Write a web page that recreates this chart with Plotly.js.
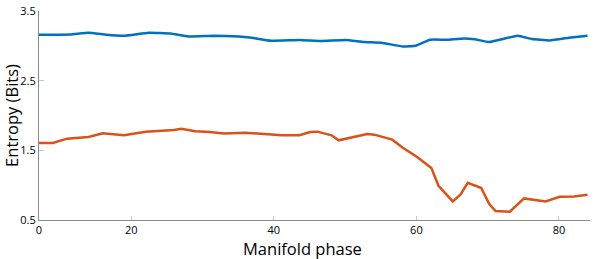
<!DOCTYPE html>
<html>
<head>
<meta charset="utf-8">
<script src="https://cdn.plot.ly/plotly-3.0.1.min.js"></script>
<style>html,body{margin:0;padding:0;background:#fff}#chart{width:597px;height:259px}</style>
</head>
<body>
<div id="chart"></div>
<script>
// Manifold phase positions
const phaseBlue = [7.06, 11.5, 14, 16.5, 19, 22.5, 25.5, 28, 31.5, 35.1, 36.6, 39.6, 43.6, 46.6, 50.1, 52.6, 55.1, 58.1, 59.9, 61.9, 64.2, 66.7, 68.2, 70.2, 74.2, 76.2, 78.7, 81.7, 84];
const entropyBlue = [3.159, 3.164, 3.188, 3.159, 3.145, 3.188, 3.178, 3.135, 3.145, 3.135, 3.121, 3.073, 3.083, 3.069, 3.083, 3.054, 3.044, 2.991, 3.001, 3.088, 3.088, 3.107, 3.093, 3.054, 3.145, 3.097, 3.078, 3.121, 3.145];

const phaseOrange = [7.06, 9, 11, 14, 16, 19, 22, 24, 26, 27, 29, 31, 33, 36, 38.6, 41.1, 43.6, 45.1, 46.1, 48.1, 49.1, 51.6, 53.1, 54.1, 56.6, 58.1, 60.1, 62.1, 63.1, 65.1, 66.2, 67.2, 69.1, 70.2, 71.1, 73.1, 75.1, 78.1, 80.1, 82.1, 84];
const entropyOrange = [1.605, 1.605, 1.668, 1.692, 1.744, 1.716, 1.768, 1.778, 1.792, 1.811, 1.773, 1.764, 1.74, 1.754, 1.74, 1.716, 1.716, 1.764, 1.768, 1.716, 1.644, 1.696, 1.735, 1.725, 1.653, 1.538, 1.404, 1.246, 0.992, 0.767, 0.868, 1.035, 0.959, 0.733, 0.628, 0.618, 0.81, 0.767, 0.834, 0.839, 0.863];

const xTickVals = [7.06, 20, 40, 60, 80];
const xTickText = ['0', '20', '40', '60', '80'];
const yTickVals = [0.5, 1.5, 2.5, 3.5];
const yTickText = ['0.5', '1.5', '2.5', '3.5'];
const xTitle = 'Manifold phase';
const yTitle = 'Entropy (Bits)';

const FONT = 'Open Sans, Noto Sans, sans-serif';

const traces = [
  {x: phaseBlue, y: entropyBlue, mode: 'lines', line: {color: '#0072BD', width: 2.5, shape: 'spline', smoothing: 0.3}, showlegend: false, hoverinfo: 'none'},
  {x: phaseOrange, y: entropyOrange, mode: 'lines', line: {color: '#D95319', width: 2.5}, showlegend: false, hoverinfo: 'none'}
];

const layout = {
  width: 597, height: 259,
  margin: {l: 39, r: 7, t: 11, b: 39, pad: 0},
  paper_bgcolor: '#fff', plot_bgcolor: '#fff',
  font: {family: FONT, color: '#000', size: 11},
  xaxis: {
    range: [7.06, 84.35], tickvals: xTickVals, ticktext: xTickText,
    showgrid: false, zeroline: false, showline: true, linecolor: '#8a8a8a', linewidth: 1,
    ticks: 'inside', ticklen: 4, tickcolor: '#c8c8c8', tickwidth: 1,
    tickfont: {family: FONT, size: 11, color: '#000'}
  },
  yaxis: {
    range: [0.5, 3.5], tickvals: yTickVals, ticktext: yTickText,
    showgrid: false, zeroline: false, showline: true, linecolor: '#8a8a8a', linewidth: 1,
    ticks: 'inside', ticklen: 5, tickcolor: '#c8c8c8', tickwidth: 1,
    tickfont: {family: FONT, size: 11, color: '#000'},
    title: {text: yTitle, font: {family: FONT, size: 16.5, color: '#000'}, standoff: 0}
  },
  annotations: [{
    text: xTitle, xref: 'paper', yref: 'paper', x: 0.479, y: -0.135,
    xanchor: 'center', yanchor: 'middle', showarrow: false, borderpad: 0,
    font: {family: FONT, size: 16.5, color: '#000'}
  }]
};

Plotly.newPlot('chart', traces, layout, {staticPlot: true, displayModeBar: false});
</script>
</body>
</html>
